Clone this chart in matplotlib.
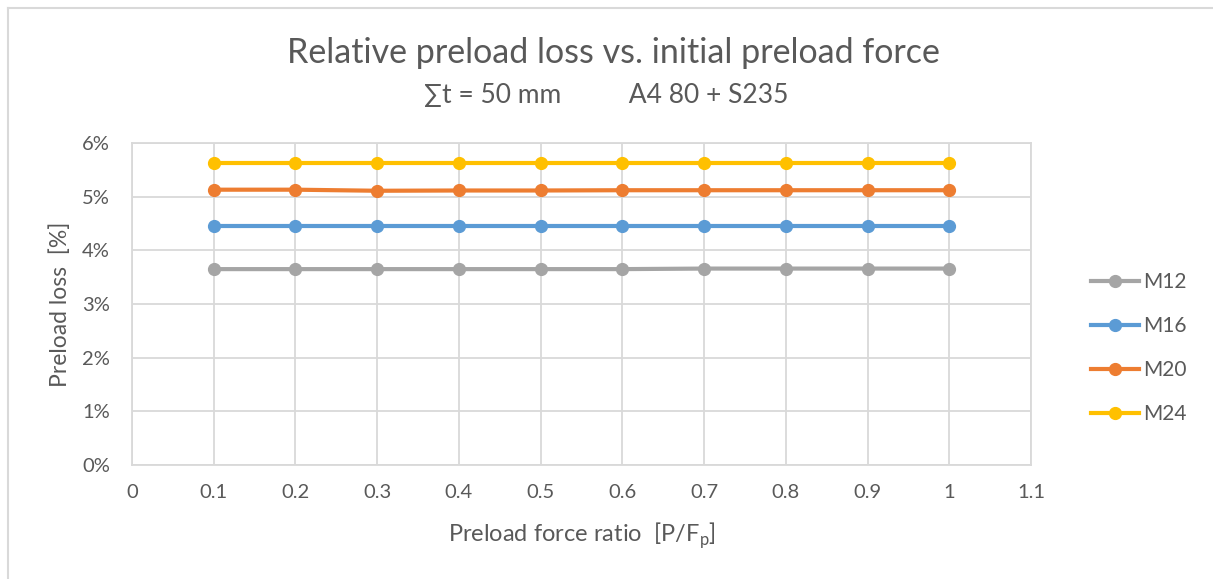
import matplotlib
matplotlib.use("Agg")
import matplotlib.pyplot as plt
from matplotlib.lines import Line2D
from matplotlib.ticker import PercentFormatter, MultipleLocator

# Preload force ratio P/Fp
ratio = [0.1, 0.2, 0.3, 0.4, 0.5, 0.6, 0.7, 0.8, 0.9, 1.0]

# Relative preload loss [%]
m12 = [3.65, 3.65, 3.65, 3.65, 3.65, 3.65, 3.66, 3.66, 3.66, 3.66]
m16 = [4.45, 4.45, 4.45, 4.45, 4.45, 4.45, 4.45, 4.45, 4.45, 4.45]
m20 = [5.13, 5.13, 5.11, 5.115, 5.115, 5.12, 5.12, 5.12, 5.12, 5.12]
m24 = [5.62, 5.62, 5.62, 5.62, 5.62, 5.62, 5.62, 5.62, 5.62, 5.62]

series = [("M12", m12, "#A5A5A5"),
          ("M16", m16, "#5B9BD5"),
          ("M20", m20, "#ED7D31"),
          ("M24", m24, "#FFC000")]

text_color = "#595959"
grid_color = "#D9D9D9"
plt.rcParams["font.family"] = ["Lato", "DejaVu Sans"]

fig = plt.figure(figsize=(12.13, 5.79), dpi=100)
W, H = 1213, 579
ax = fig.add_axes([132 / W, 1 - 465 / H, 899 / W, 322 / H])

for name, vals, col in series:
    ax.plot(ratio, vals, color=col, lw=3, marker="o", ms=8.5,
            solid_capstyle="round", label=name, zorder=3)

ax.set_xlim(0, 1.1)
ax.set_ylim(0, 6)
ax.yaxis.set_major_locator(MultipleLocator(1))
ax.yaxis.set_major_formatter(PercentFormatter(decimals=0))
ax.set_xticks([i / 10 for i in range(12)])
ax.set_xticklabels(["0", "0.1", "0.2", "0.3", "0.4", "0.5", "0.6", "0.7",
                    "0.8", "0.9", "1", "1.1"])
ax.grid(True, color=grid_color, lw=1.3)
ax.set_axisbelow(True)
for s in ax.spines.values():
    s.set_color(grid_color)
    s.set_linewidth(1.3)
ax.tick_params(length=0, colors=text_color, labelsize=14.5, pad=14)
ax.tick_params(axis="y", pad=16)

ax.set_xlabel(r"Preload force ratio  [P/F$_\mathregular{p}$]",
              fontsize=17, color=text_color, labelpad=14)
ax.set_ylabel("Preload loss  [%]", fontsize=16.5, color=text_color, labelpad=8)

fig.text(0.5055, 1 - 53 / H, "Relative preload loss vs. initial preload force",
         ha="center", va="center", fontsize=24.5, color=text_color)
fig.text(606 / W, 1 - 95 / H, "∑t = 50 mm          A4 80 + S235",
         ha="center", va="center", fontsize=19, color=text_color)

handles = [Line2D([0], [0], color=c, lw=3, marker="o", ms=8.5) for _, _, c in series]
leg = fig.legend(handles, [n for n, _, _ in series], loc="center left",
                 bbox_to_anchor=(1081 / W, 1 - 348 / H), frameon=False,
                 fontsize=15, labelcolor=text_color, handlelength=2.3,
                 handletextpad=0.2, labelspacing=1.15, borderpad=0)

# chart area border
fig.add_artist(Line2D([7.5 / W, 7.5 / W], [0, 1 - 7.5 / H],
                      transform=fig.transFigure, color=grid_color, lw=1.5))
fig.add_artist(Line2D([7.5 / W, 1], [1 - 7.5 / H, 1 - 7.5 / H],
                      transform=fig.transFigure, color=grid_color, lw=1.5))

fig.savefig("out.png", dpi=100, facecolor="white")
